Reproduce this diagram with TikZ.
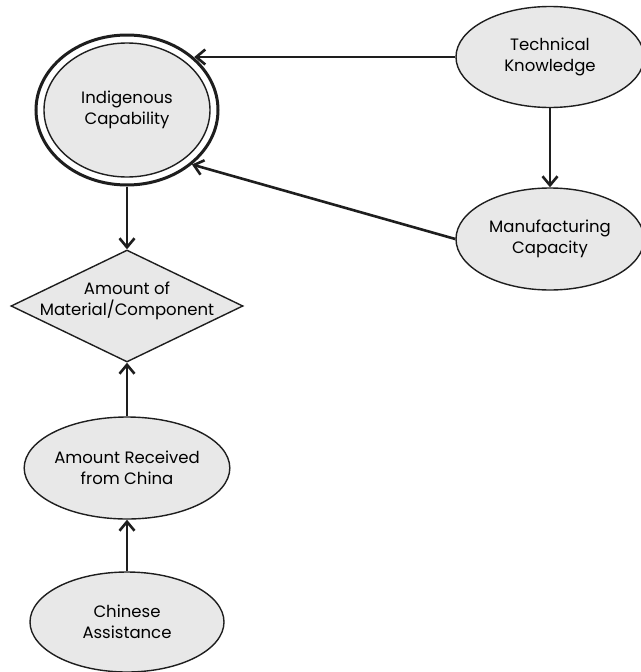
\documentclass[tikz,border=0pt]{standalone}
\usepackage{fontspec}
\setmainfont{Poppins}
\usetikzlibrary{shapes.geometric,arrows.meta}
\definecolor{nodefill}{HTML}{E8E8E8}
\definecolor{ink}{HTML}{1E1E1E}
\tikzset{
  lbl/.style={align=center,font=\fontsize{16.5}{21}\selectfont},
  ell/.style={ellipse,draw=ink,line width=1.4pt,fill=nodefill,inner sep=0pt,lbl},
  dia/.style={diamond,draw=ink,line width=1.4pt,fill=nodefill,inner sep=0pt,lbl},
  conn/.style={draw=ink,line width=2.6pt,-{Straight Barb[length=9pt,width=15pt,line width=2.6pt]}}
}
\begin{document}
\begin{tikzpicture}[x=1pt,y=-1pt]
\useasboundingbox (0,0) rectangle (640,672);
% Indigenous Capability (double ellipse)
\node[ellipse,draw=ink,line width=3pt,fill=white,minimum width=182pt,minimum height=150pt,inner sep=0pt] (ic) at (127,110) {};
\node[ell,minimum width=166pt,minimum height=134pt] (icin) at (127,110) {Indigenous\\Capability};
\node[ell,minimum width=188pt,minimum height=101pt] (tk) at (550,57) {Technical\\Knowledge};
\node[ell,minimum width=188pt,minimum height=102pt] (mc) at (550,239) {Manufacturing\\Capacity};
\node[dia,minimum width=232pt,minimum height=112pt,aspect=2.07] (amc) at (127,306) {};
\node[lbl] (amct) at (127,301) {Amount of\\Material/Component};
\node[ell,minimum width=204pt,minimum height=102pt] (arc) at (127,468) {Amount Received\\from China};
\node[ell,minimum width=194pt,minimum height=100pt] (ca) at (127,622) {Chinese\\Assistance};
% connectors
\draw[conn] (tk.west) -- (tk.west -| ic.38.4);
\draw[conn] (mc.west) -- (ic.-40);
\draw[conn] (tk.south) -- (mc.north);
\draw[conn] (ic.south) -- (amc.north);
\draw[conn] (arc.north) -- (amc.south);
\draw[conn] (ca.north) -- (arc.south);
\end{tikzpicture}
\end{document}
